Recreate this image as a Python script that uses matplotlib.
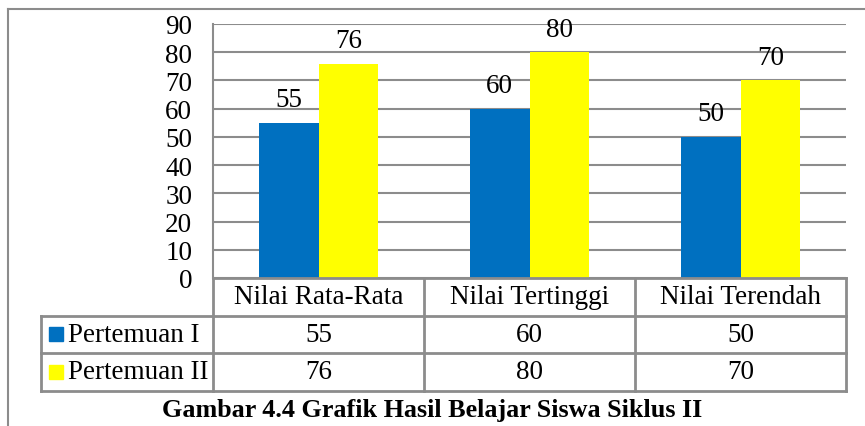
import matplotlib.pyplot as plt
import matplotlib.transforms as mtransforms
import numpy as np

plt.rcParams['font.family'] = ['Liberation Serif', 'DejaVu Serif']

categories = ['Nilai Rata-Rata', 'Nilai Tertinggi', 'Nilai Terendah']
series_names = ['Pertemuan I', 'Pertemuan II']
pertemuan_1 = [55, 60, 50]
pertemuan_2 = [76, 80, 70]
colors = ['#0070C0', '#FFFF00']
title = 'Gambar 4.4 Grafik Hasil Belajar Siswa Siklus II'

W, H = 865, 427
fig = plt.figure(figsize=(W / 100, H / 100), dpi=100)
ax = fig.add_axes([213 / W, 1 - 279 / H, (846 - 213) / W, (279 - 25) / H])

x = np.arange(len(categories))
bw = 0.284
grid_c = '#8c8c8c'
fs = 19.5

for i, (vals, c) in enumerate(zip([pertemuan_1, pertemuan_2], colors)):
    bars = ax.bar(x + (i - 0.5) * bw, vals, bw, color=c, zorder=3)
    for b, v in zip(bars, vals):
        ax.annotate(str(v), (b.get_x() + b.get_width() / 2, v), xytext=(0, 12),
                    textcoords='offset points', ha='center', va='baseline',
                    fontsize=fs, zorder=4)

ax.set_xlim(-0.5, 2.5)
ax.set_ylim(0, 90)
ax.set_yticks(range(0, 91, 10))
ax.set_xticks([])
ax.tick_params(axis='y', length=0, pad=15, labelsize=fs)
ax.yaxis.grid(True, color=grid_c, lw=1.5, zorder=0)
for s in ['top', 'right', 'bottom']:
    ax.spines[s].set_visible(False)
ax.spines['left'].set_color(grid_c)
ax.spines['left'].set_linewidth(1.5)

# data table below the plot
tr = mtransforms.blended_transform_factory(ax.transData, ax.transAxes)
px = 1 / 254  # axes fraction per pixel
rows_y = [0, -37.5 * px, -75 * px, -113 * px]
x_left = -0.5 - (213 - 41) / 211
lk = dict(color=grid_c, lw=2, transform=tr, clip_on=False, zorder=5)

ax.plot([-0.5, 2.5], [rows_y[0]] * 2, **lk)
for yy in rows_y[1:]:
    ax.plot([x_left, 2.5], [yy] * 2, **lk)
for xx in [-0.5, 0.5, 1.5, 2.5]:
    ax.plot([xx, xx], [rows_y[0], rows_y[3]], **lk)
ax.plot([x_left, x_left], [rows_y[1], rows_y[3]], **lk)

for j, cat in enumerate(categories):
    ax.text(j, (rows_y[0] + rows_y[1]) / 2, cat, transform=tr, ha='center',
            va='center', fontsize=fs)
for r, (name, vals, c) in enumerate(zip(series_names, [pertemuan_1, pertemuan_2], colors)):
    yc = (rows_y[r + 1] + rows_y[r + 2]) / 2
    ax.add_patch(plt.Rectangle((x_left + 8 / 211, yc - 7 * px), 14 / 211, 14 * px,
                               color=c, transform=tr, clip_on=False))
    ax.text(x_left + 27 / 211, yc, name, transform=tr, ha='left', va='center', fontsize=fs)
    for j, v in enumerate(vals):
        ax.text(j, yc, str(v), transform=tr, ha='center', va='center', fontsize=fs)

# outer frame
fig.add_artist(plt.Line2D([8 / W, 8 / W], [0, 1 - 10 / H], color=grid_c, lw=1.5))
fig.add_artist(plt.Line2D([8 / W, 1], [1 - 10 / H] * 2, color=grid_c, lw=1.5))

fig.text(432 / W, 1 - 411 / H, title, ha='center', va='center', fontsize=18.8,
         fontweight='bold')

fig.savefig('out.png', dpi=100)
